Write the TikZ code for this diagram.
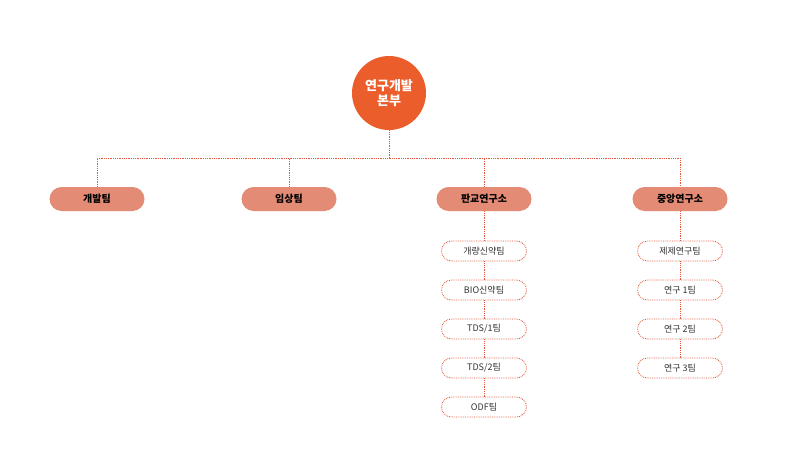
\documentclass[tikz,border=0pt]{standalone}
\usepackage{fontspec}
\setmainfont{Noto Sans CJK KR}
\usetikzlibrary{positioning}
\definecolor{hqorange}{HTML}{EB5E2B}
\definecolor{leadfill}{HTML}{E38B74}
\definecolor{dotline}{HTML}{E2553A}
\tikzset{
  hq/.style={circle, fill=hqorange, text=white, font=\bfseries\fontsize{13}{15}\selectfont, minimum size=74pt, inner sep=0pt, align=center},
  lead/.style={rectangle, rounded corners=12pt, fill=leadfill, font=\bfseries\fontsize{10}{12}\selectfont, minimum width=95pt, minimum height=24pt, inner sep=0pt},
  team/.style={rectangle, rounded corners=10pt, draw=dotline, densely dotted, thick, fill=white, text=black!80, font=\fontsize{9}{11}\selectfont, minimum width=85pt, minimum height=20pt, inner sep=0pt},
  link/.style={draw=dotline, densely dotted, thick}
}
\begin{document}
\begin{tikzpicture}[x=1pt, y=-1pt]
\useasboundingbox (0,0) rectangle (803,463);
% Nodes
\node (hq) [hq] at (389,93) {연구개발\\본부};
\coordinate (bus) at (389,158);
\node (dev) [lead] at (97,199) {개발팀};
\node (clin) [lead] at (289,199) {임상팀};
\node (pangyo) [lead] at (484,199) {판교연구소};
\node (central) [lead] at (680,199) {중앙연구소};
\node (p1) [team] at (484,251) {개량신약팀};
\node (p2) [team] at (484,290) {BIO신약팀};
\node (p3) [team] at (484,329) {TDS/1팀};
\node (p4) [team] at (484,368) {TDS/2팀};
\node (p5) [team] at (484,407) {ODF팀};
\node (c1) [team] at (680,251) {제제연구팀};
\node (c2) [team] at (680,290) {연구 1팀};
\node (c3) [team] at (680,329) {연구 2팀};
\node (c4) [team] at (680,368) {연구 3팀};
% Lines
\begin{scope}[on background layer/.style={}]
\path[link] (hq) -- (bus);
\path[link] (dev) |- (bus) -| (central);
\path[link] (clin) -- (clin |- bus);
\path[link] (pangyo) -- (pangyo |- bus);
\path[link] (pangyo) -- (p1) -- (p2) -- (p3) -- (p4) -- (p5);
\path[link] (central) -- (c1) -- (c2) -- (c3) -- (c4);
\end{scope}
\end{tikzpicture}
\end{document}
